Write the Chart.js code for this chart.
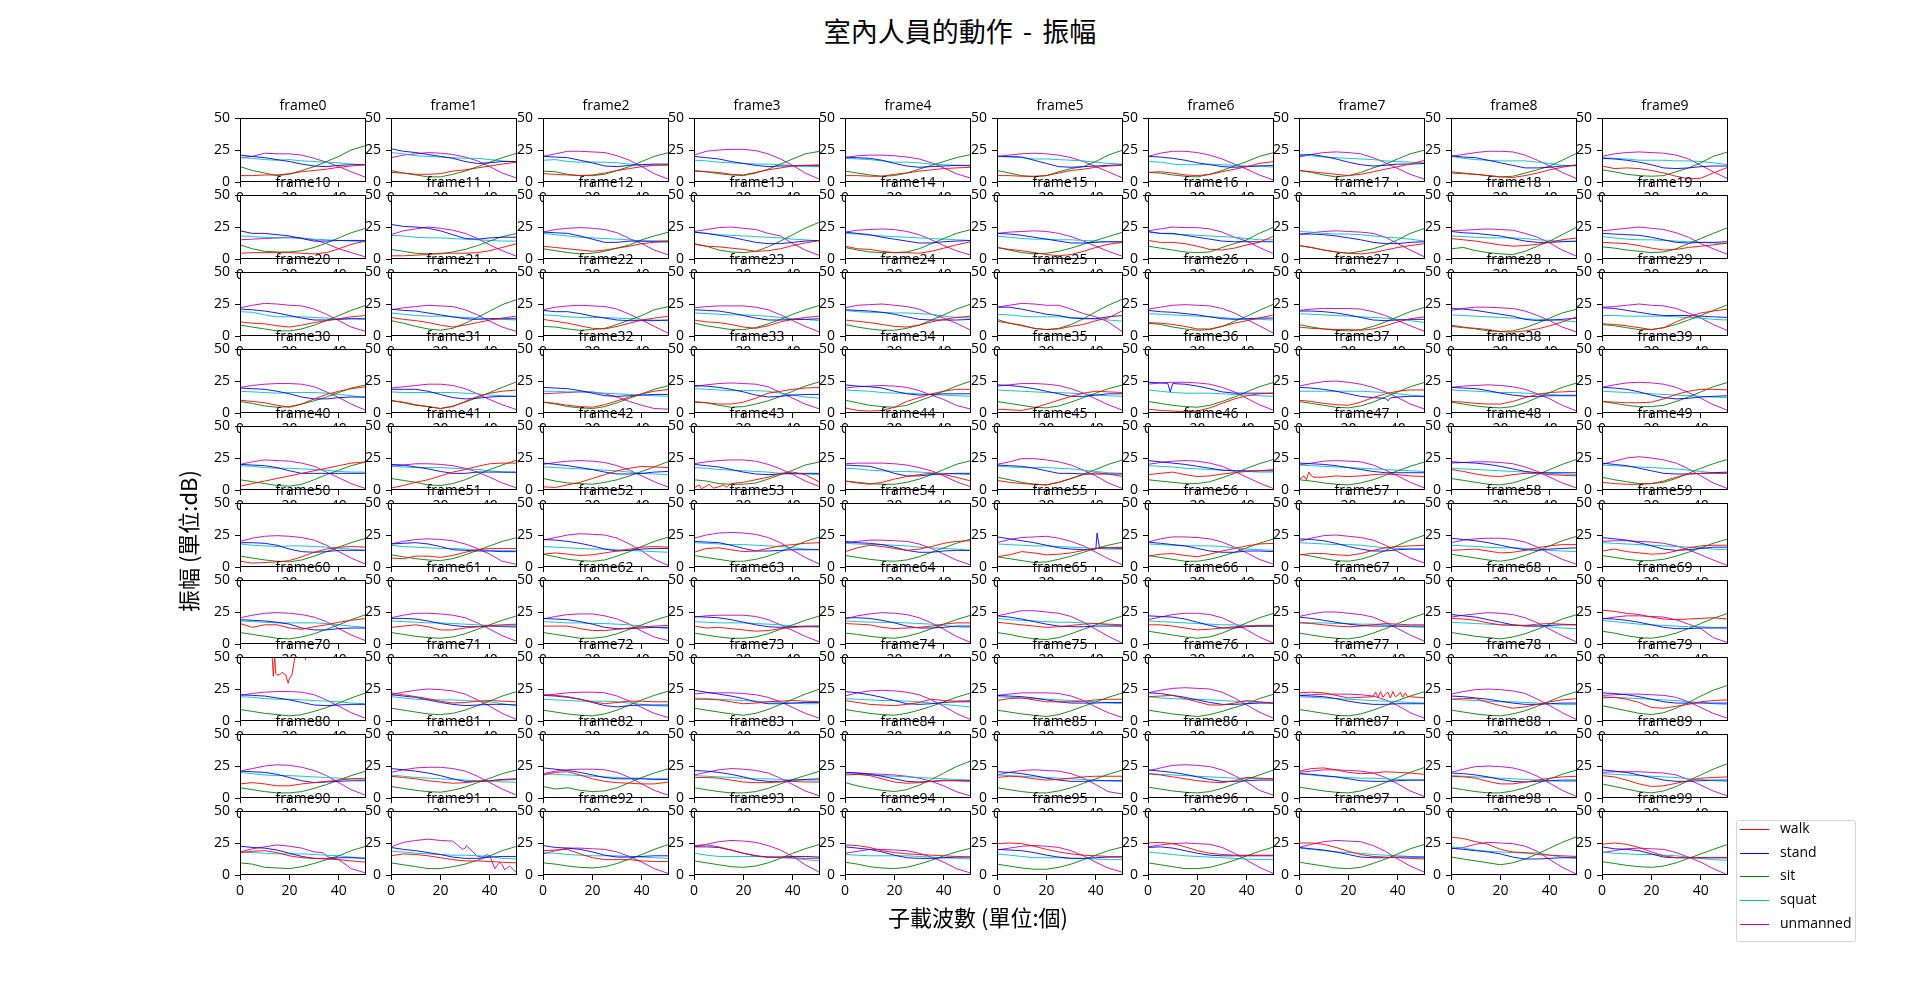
<!DOCTYPE html>
<html><head><meta charset="utf-8">
<script src="https://cdn.jsdelivr.net/npm/chart.js@4.4.1/dist/chart.umd.min.js"></script>
<style>
html,body{margin:0;padding:0;background:#fff;width:1920px;height:983px;overflow:hidden;}
#stage{position:relative;width:1920px;height:983px;background:#fff;}
#stage canvas{position:absolute;}
.lbl{position:absolute;white-space:nowrap;color:#000;line-height:1;font-family:'Noto Sans CJK TC','Open Sans',sans-serif;}
#legend{position:absolute;left:1736px;top:820px;width:120px;height:122px;box-sizing:border-box;border:1px solid #d4d4d4;border-radius:3px;background:rgba(255,255,255,0.8);font-family:'Open Sans','Noto Sans CJK TC',sans-serif;font-size:14px;color:#000;}
#legend .it{position:absolute;left:0;height:20px;width:118px;}
#legend .ln{position:absolute;left:3px;top:9px;width:29px;height:1px;}
#legend .tx{position:absolute;left:43px;top:-2px;line-height:20px;}
</style></head><body><div id="stage"></div>
<script>
// subcarrier positions of the read-off samples
const X = [0,5,10,15,20,25,30,35,40,45,51];
const xTicks = [0,20,40];
const yTicks = [0,25,50];
const seriesNames = ['walk','stand','sit','squat','unmanned'];
const seriesColors = ['#ff0000','#0000ff','#008000','#00bfbf','#bf00bf'];

const walk = [
[5,5,5.5,5.5,6.5,8,9,10,11.5,12.5,13.5],
[7.5,7,6,6,6.5,8.5,9.5,11,12.5,14,15.5],
[6.5,6,5.5,5,5.5,7,9,10.5,12,13,13.5],
[9,8,7.5,6,5.5,7.5,9.5,11,12.5,13,13.5],
[5,5,4.5,4.5,6,7,8.5,9.5,10.5,11,11.5],
[5,5,4.5,4.5,5,7,9,10,11.5,12.5,13],
[7.5,8,7,5.5,5,6,8,10,12,14.5,16],
[9,8,7,6,5,6,8,10,12,14,17],
[7,6.5,6,5,4,3.5,5,7,9.5,11.5,13.5],
[12.5,10.5,11,10.5,9,7,4.5,2.5,3,7,11.5],
[4.5,5,5,5,5,4.5,4,5,8,11.5,14],
[2.5,2.5,3,3.5,4.5,4.5,4.5,5,6.5,9,12],
[10,9,8,7,6,7,8.5,10,12,13,14],
[11.5,10,9.5,8.5,7.5,6,6.5,8,10.5,12.5,14.5],
[10,8,7.5,6,5,5,4.5,6,8.5,11,13.5],
[9,7.5,6.5,5,3.5,2.5,3.5,6,9,11.5,13],
[14.5,13,13,12,10,7.5,7,8.5,11,13,18],
[10.5,9,7,5.5,4.5,4,5,7,9,10.5,12],
[16,15,14,12.5,11,10,10.5,11.5,13,15,16.5],
[13,12.5,12,10.5,8.5,7,7.5,9,10,11,12.5],
[11,10,9.5,8,7,8.5,10.5,12,13.5,15,16],
[14.5,13,12,10.5,8.5,7,8.5,10.5,12.5,14,15.5],
[13,11.5,10,8,6,5.5,7.5,10,12.5,14,15.5],
[12.5,11,10.5,9,7,6,8,11,13,14.5,15.5],
[12.5,11.5,10.5,9,7.5,7,8.5,11,13,14.5,15.5],
[11.5,10,8.5,6,5,5.5,7.5,9,12,14,20],
[10.5,10,9,7.5,5.5,5.5,7.5,10,12,14,16.5],
[7,6,5.5,5,5,4.5,5.5,8,11,13.5,15],
[7.5,6.5,6,5,3.5,3,4,5.5,8,11,15],
[9.5,9,8,6.5,5,6.5,11,15,18,19.5,21],
[10,9,8,6,4.5,7,11,14.5,17,19,20.5],
[9.5,8.5,6.5,5,3.5,5,9,13,15.5,17,18],
[8.5,7.5,6,5,4.5,6.5,9.5,12.5,15,17,18.5],
[8.5,8,7,7,8.5,11.5,15.5,17,18.5,19.5,20],
[4,2,1.5,2,4.5,9,12,15,17,18.5,18.5],
[3,2.5,2,4,7,10,13,15.5,17,16.5,16],
[3,2,1.5,1,1.5,4,7.5,11,13.5,15,15.5],
[10,9,7.5,6.5,6,8.5,12,15,17,18,18],
[9,8.5,7.5,7,7,9,12,14.5,16,16.5,17],
[9,8.5,8,8,8.5,11,14.5,17,18.5,18.5,18],
[3,5,7,9,11,13,15,17,19,21,22],
[1.5,3.5,6,8,11,14,16,18.5,20.5,21,21],
[2.5,2,4,6,9,12,15,17,18.5,18,17.5],
[1.5,3,2.5,5,6,8,10,13,14,12,6],
[7,5.5,4.5,6,8.5,10.5,12,13,12,10,7],
[7.5,6,5,4.5,4,6,9,12,13.5,12.5,10.5],
[12,13,14,12,10.5,11,12.5,13.5,14.5,15,16],
[8,11,10,11,10.5,11,12,12.5,12,11,10.5],
[16,14.5,12.5,11,10.5,12,13,13,12,11.5,11],
[6,5,4.5,4.5,5,7,10,12.5,13,13,13],
[4.5,3,3.5,4,5,8,11.5,14,15.5,16,15.5],
[7,6.5,8.5,8.5,7.5,9,11.5,13.5,14.5,14.5,14.5],
[10,11,10,9,9.5,11,12.5,14,15.5,16,15.5],
[11.5,14.5,15,13.5,12,12.5,14.5,16.5,17.5,18.5,19],
[12,15,17,16,14.5,13,14,16,18.5,20,20.5],
[8,9.5,12,11,9.5,10,11,13,14.5,15,15.5],
[8.5,10,10.5,9,8,10,12.5,14.5,16.5,18,18.5],
[9.5,10.5,10.5,9.5,9,10.5,13,15,16,16.5,17],
[13,13.5,14,12.5,11,11.5,13,15,16.5,17.5,17.5],
[12.5,14,12,11,10,10.5,12.5,15,16.5,17,17],
[16,13,15,15,12.5,11.5,13.5,15,17,18.5,20],
[13,14,15,13.5,11,11,12.5,13.5,14.5,15,15.5],
[14,14,14,12,10.5,10.5,11.5,12.5,13.5,14,14.5],
[14,12.5,13,12,11,10,10.5,12,13,13.5,14],
[16,15.5,15,13,12,12.5,13,14,15.5,16.5,16.5],
[17,16,15,14,13,13.5,14.5,15.5,16,15.5,15],
[15,15,14,12.5,11,11.5,12.5,13.5,14,14.5,14.5],
[16.5,16,15,14,13.5,14,15,16,15.5,15,15],
[20,19.5,18.5,16.5,15,14.5,14.5,15.5,16,15.5,15],
[26.5,25.5,24,23,21,19.5,19,19.5,20,20.5,19.5],
[60,60,60,36,33,58,60,60,60,60,60],
[22,20.5,19,17.5,15.5,14,14.5,15.5,16,15.5,15],
[20.5,20,19,17,15,13.5,14.5,15.5,15.5,15,15],
[17,17,16.5,15,13.5,14,15,15.5,16,15.5,15],
[16,14.5,13,12.5,12,13,14.5,17,16,15.5,16],
[16,17.5,18,16.5,15,15,15,15.5,16.5,17,17],
[19,19.5,20,17.5,15,12.5,12.5,14,16,15,14],
[22,22.5,22,20,18,18.5,19,21,20,19,18],
[17,17.5,17.5,14.5,12,10,11,13,15,16.5,17.5],
[18,18.5,17,14.5,10.5,10,11.5,13,15,16,16.5],
[11,12,11,9.5,9.5,11,12,13,14,15,15.5],
[17,16,15,13.5,12.5,11.5,12,13,13.5,14,14.5],
[18,20,20.5,18,15,13,12,11.5,11,11,12.5],
[16,16,15.5,14,12.5,12,12,12.5,13,12.5,12.5],
[18,18.5,17.5,15,12.5,11.5,12,13,14,13.5,13],
[16,17,16.5,15,14,14.5,15.5,16.5,17,17,17],
[19,18,16.5,15,13.5,12.5,12,13.5,16,15.5,15],
[21,23,23.5,22,20,19,19.5,20.5,20,19.5,18.5],
[17,16.5,15.5,13,11,11,12.5,14,15.5,16.5,17],
[17.5,16.5,14,11,9,9.5,11.5,13.5,15.5,16,16.5],
[17.5,18.5,19,17.5,15,13.5,13,12.5,12,11,10],
[15,16.5,16,15,13.5,12,11,11,10.5,10,9.5],
[19,19.5,20,16.5,13.5,12,12,12,11,10.5,10.5],
[23,23.5,22,19.5,17,15,14,14,13.5,13,13],
[23.5,23,21.5,19,17.5,16.5,16,15.5,15,14.5,14],
[24.5,25,24.5,22.5,20,18,16.5,15.5,15,14.5,14.5],
[25,25.5,24.5,22,19,17,16,15.5,15.5,15.5,15.5],
[25,25,24,21.5,18.5,16,14.5,14,13.5,13,12.5],
[29.5,28.5,26,24,20,18,17.5,16,15.5,15,14.5],
[24,25,24,21.5,18,15,13.5,13.5,13.5,13.5,13.5]
];

const stand = [
[21,20,19,17.5,16,14,12.5,12,13,13.5,13.5],
[26,24,23,21.5,20,18.5,16,14.5,15,16,16],
[20,19.5,19,17,15,12.5,12,13,13.5,14,14],
[20,19,18,16,14.5,13,12,12.5,12.5,13,12.5],
[19.5,19,18.5,17,14.5,12.5,11.5,12,12.5,13,13],
[20,20,19.5,17,14.5,12,11.5,12,12.5,13,13.5],
[20,19.5,18.5,17,15,13.5,12,11.5,12,12.5,13],
[21,21.5,20,18,15.5,13.5,12.5,13,14,14,14.5],
[20.5,19.5,19,17,15,13,11,11,11.5,12.5,13],
[18.5,18,17,15.5,13.5,11,10.5,11,12,12.5,12.5],
[22,20,20,19,18,16,14,14,14.5,14.5,14.5],
[27,25.5,25,24,22,19,16,15.5,16.5,17,17],
[21,20.5,20,18,15.5,13,13,14,14,14,14],
[21,20,18.5,17,15,13,12,12,13,14,14.5],
[21,20,19,17,15.5,14,12.5,12.5,13.5,14,14.5],
[20,19.5,18.5,17,15.5,14,12.5,12.5,13,13.5,13.5],
[21.5,20,20,18.5,17,15.5,14,13.5,13.5,13.5,13.5],
[19.5,19.5,19,18,16.5,15,13,12,12,13,13.5],
[21.5,20.5,20,19,18,16,14,13,13,13.5,14],
[20,19.5,19,18.5,17,15,13,12.5,13,13,13.5],
[21,20.5,19.5,18,16,14,12.5,12.5,13,13.5,13.5],
[21,20,19.5,18,16.5,15,13.5,13,13.5,13.5,13.5],
[20,19,19,17.5,15.5,14,12.5,12,12,12,12.5],
[20.5,20,19.5,18,16,14,12.5,12.5,13,13,13.5],
[20.5,20,19.5,18.5,17,15,13,12.5,12.5,12.5,13],
[22.5,22.5,21,19,17,16,14,13.5,13.5,15,16],
[20,19,18.5,17.5,16.5,15,13.5,13,13.5,14,14],
[19.5,19.5,19,18,16.5,14.5,12.5,12,12.5,13,13],
[21.5,21,20,18.5,17,15.5,13,12,12.5,13,14],
[22,21.5,20,18.5,17,16,16,16,15.5,15,14.5],
[19.5,19,18.5,17,15,12.5,11,11,12,12.5,12.5],
[18.5,18.5,18.5,17,14.5,12,11,11.5,12.5,13,13],
[20,19.5,19,17.5,15.5,13.5,13,13.5,14,14.5,14.5],
[21.5,21,20,18.5,16.5,14,12.5,13,14,14.5,14.5],
[22,21,20.5,19.5,17,15,14,14.5,15,15,15],
[22,21.5,20.5,19,17,15,13,13,14,15,15],
[24,23.5,23,22.5,21,19,16.5,15.5,15.5,15.5,15.5],
[20,19.5,18.5,17,15,13,12,11.5,12.5,13,13],
[20,19.5,19,17.5,15.5,14,13,13,13.5,13.5,13.5],
[20,19.5,18.5,16.5,14,12,11,11.5,12.5,13,13.5],
[20,19.5,19,17.5,15,13,13,13,13,13,13],
[20,19.5,18,16.5,14.5,13,13,14,14,14,14],
[21,20,19,17.5,16,14,12.5,12.5,13,14,14.5],
[20,19,18,16,14,12.5,12,12.5,13,13,13],
[19.5,19,18.5,16,13,11,11,12,12.5,13,13],
[19.5,19,18.5,17,15,13,13,12.5,12.5,12.5,12.5],
[23,22,21,20,18.5,17,15.5,15,15,15,15],
[21,20.5,20,19,17.5,16,14.5,13.5,13.5,13.5,13.5],
[22,21.5,21,20,18.5,16.5,14.5,13.5,13.5,13.5,13.5],
[21,20,19,17,15,13,12.5,12.5,13,13.5,14],
[19,19,18.5,17,14,12,11.5,12,13,13,13],
[18,18.5,19,18,16,13.5,13,12.5,12.5,12,12],
[21.5,21,20,18.5,16.5,14,12.5,13,14,14.5,14.5],
[20,19.5,19,17,14.5,12.5,12.5,13,13.5,13.5,13.5],
[20,19,18.5,17.5,15.5,13,11.5,11.5,12.5,13,13],
[23.5,22,20.5,19,17,15,14,13.5,14,15,14.5],
[19.5,18.5,17.5,16.5,14.5,12.5,11.5,11.5,12.5,12.5,12],
[22,21.5,20.5,18.5,16,14,12.5,12.5,13.5,14,14],
[22.5,21.5,20.5,19,17,15,13.5,13,14,14.5,15],
[23,22,21,19,16.5,14,13,13.5,14.5,15.5,15.5],
[19,18.5,18,17,15.5,12.5,11,11,12,12.5,12.5],
[20,20,19.5,18,16,14.5,13.5,13.5,14,14,14],
[20,19.5,19,17.5,15.5,13,12,12,12.5,13,13],
[21.5,21,20.5,19,17,15,13.5,13,13.5,14,14],
[20.5,20.5,20,18.5,16.5,14,12.5,12.5,13,14,14],
[22,21,19.5,17.5,15.5,14,13.5,13.5,14,14,14],
[22,21.5,21,19.5,17,14.5,12.5,12.5,13.5,14,14],
[21,20,18.5,17,15.5,14.5,14,14,14,14,14],
[23,22,21,19,17,15,14,14,14.5,15,15],
[20,19.5,18.5,17,15,13,12,12,12.5,12.5,12.5],
[20.5,20,19.5,18,16.5,14.5,12.5,12,12.5,13,13],
[20.5,19.5,18.5,16.5,14.5,13,12,12.5,13,13,12.5],
[20,19.5,18.5,17,14.5,12,11,12,12.5,12.5,12.5],
[24,22.5,21,19.5,17.5,15,13.5,13.5,14,14.5,14.5],
[23,22,20.5,18.5,16,13.5,13,13.5,14.5,15,15],
[20,19.5,19,18,16.5,15,14,14,14,14.5,14.5],
[22,21.5,20,18.5,16.5,14.5,13,13,13.5,14,14],
[20,19.5,19,17.5,15.5,14,13,13,13.5,13.5,13.5],
[19.5,19,18,17,15.5,14,13,13,13.5,14,14],
[22,21.5,20.5,19,17,15,14,14,14,14,14],
[21,20.5,20,18.5,16,13.5,12,12.5,13,13.5,13.5],
[23,22,21,19.5,17.5,15,13,13,13.5,14.5,15],
[23.5,22.5,21.5,20,18,16,15,15,15,14.5,14.5],
[21.5,21,20,18.5,16.5,14,13,13,14,14.5,15],
[20,19.5,18.5,17,15,13,12.5,13,13.5,13.5,13.5],
[20.5,20,19,17.5,15.5,14,13,13,13.5,13.5,13.5],
[22,21,20,18.5,16.5,14.5,13,13,13.5,14,14],
[19,18.5,17.5,16.5,15,13.5,13,13,13.5,14,14],
[19.5,19,18,16.5,14.5,13,12.5,13,13.5,14,14],
[22,21,20,18,16,14,13,13,13.5,14,14],
[22.5,21.5,21,19.5,17,14.5,13,13,13.5,13.5,13],
[21.5,20,19,17.5,16,14,13,13,14,14.5,14.5],
[23,21.5,21,20,18,15.5,14,14,14.5,15,15],
[22,22,21.5,19.5,17,15,14,14,14.5,14.5,14],
[22,21,20,18,15.5,13.5,13,13,13.5,14,14],
[20,19.5,19,17.5,15.5,14,13,13,13.5,14,14],
[21.5,22,21,19,17,15.5,15,15,15,15,15],
[21.5,20.5,19.5,18,16,14,13.5,13.5,14,14,14],
[21,20,19,18,16.5,14,12.5,12.5,13,13.5,13.5],
[22,20.5,20,19,16.5,14,13.5,13.5,13.5,13.5,13.5]
];

const sit = [
[12,9,7,5,6,9,12,16,20,25,28.5],
[9,7,5.5,4,4,6,8.5,12,15.5,19,22.5],
[8.5,8,6,5,5,6,9,12,16,20,23],
[8.5,8,6.5,5.5,5,7,10,14,18,22,24],
[8.5,7,5.5,4.5,5,7,10,13,16,19,21.5],
[9,7,5,4,5,8,10.5,12,16,21,25],
[7.5,7,5.5,4.5,4,6,9,12.5,16,20,23],
[9,7.5,5.5,4,5,7.5,11,14,18,22,25],
[8,7,6,5,4,4.5,7,9.5,12.5,17,22.5],
[9.5,8,6,5,4.5,5,8,11,15,20,23.5],
[11,8,6,5.5,5.5,6.5,9,12.5,16.5,20.5,24],
[7.5,6,4.5,4,4,5.5,7.5,10.5,14,17.5,20],
[8,6.5,5,4,4.5,6,8.5,11,15,18,21],
[12,10,7,5.5,5,6,9.5,14,19,24,29],
[9,7,5.5,5,5,5.5,8,12,16,20,23],
[9,7,5,4,4.5,6,8.5,11.5,14.5,17.5,21],
[10,8.5,7,5.5,5,5.5,9,12,15,20,25],
[10.5,9,7,5.5,4.5,6,8,11,15,20,24],
[8,9,6.5,5,4,3.5,6,10,14,19,25],
[9.5,8.5,7,6,5,5.5,8,12,16,20,24.5],
[8.5,7,5.5,4,4,5.5,8.5,12,16,20,24],
[12,10,7.5,5.5,4.5,6,10,14.5,19.5,24.5,28.5],
[7.5,7,5.5,4.5,5,6,9,12.5,16,20.5,23],
[10,8,6.5,5,5,6.5,9.5,13,17,20.5,24],
[9,7,5.5,4.5,4.5,6,8.5,12.5,16.5,21,25],
[13,10,8,6,5,6,9,13.5,19,24,29],
[10,9,7,5.5,4.5,5,7.5,11.5,15.5,20,25],
[9,7,5.5,4.5,4,5,7.5,11,15,19,22.5],
[8.5,7,5.5,4,3.5,4,6.5,10,14,18,21],
[9,8,6.5,5,5,6.5,9,12.5,16,20,24.5],
[9,7.5,5.5,4.5,5,7,9.5,12.5,16,19.5,22],
[10,8,6,5,3.5,5.5,8.5,12,16,20,24.5],
[8.5,7,5,4,3.5,5,8,11.5,15,18.5,21.5],
[9,8,6,4.5,5,7,9.5,13,17,21,24.5],
[10,8,6,5,4.5,6,9.5,13,17,21,25],
[9,7.5,6,4.5,4,5.5,8.5,12,15.5,19,22],
[9,7.5,6,5,4.5,6,9,12.5,16.5,20.5,24],
[9,7.5,6,4.5,4,5.5,8.5,12.5,16.5,20.5,24],
[8.5,7,5.5,4.5,4,5,8,12,16,20,23.5],
[9,7.5,6,5,5,6,9,12.5,16.5,20.5,24],
[8,6.5,5,3.5,3,4.5,8,12,15.5,19,22],
[9,7.5,6,4,3.5,5,8,12,16,19.5,23.5],
[9,7,5.5,5,4.5,6,8,11,14.5,18,22.5],
[8,7,5,4.5,4.5,5.5,8.5,12,15.5,19.5,22],
[7,6,5,4.5,4.5,6,8.5,12,16,20,23],
[10,8,6,4.5,4,6,9,12.5,16,20,23.5],
[8,7,6,5,5,6.5,9.5,13,17,20.5,24],
[8,7,5.5,4.5,4,5.5,8,11.5,15,18.5,22],
[9,7.5,6,4.5,4,5.5,8.5,12,16,20,24],
[10,8,6.5,5,5,6,9,13,17,20.5,24],
[8.5,7,5.5,4.5,4,5.5,8.5,12,15.5,19,22.5],
[9.5,8,6.5,5.5,5,6.5,9.5,13,16.5,20,23],
[10,8,6,5,4.5,5.5,8.5,12,16,20,23.5],
[9,7.5,6,4.5,4.5,6,8.5,12,16,20,23.5],
[9,7.5,6,5,4.5,5.5,8,11.5,15,18.5,22],
[8,6.5,5,3.5,4,6,8.5,11.5,14.5,17,19.5],
[9,7.5,6,4.5,4.5,6,8.5,11.5,15,18.5,22],
[10,8.5,6.5,5,4.5,6,9,13,17,21,25],
[10,8.5,7,5.5,4.5,6,9,12.5,16.5,20.5,24],
[9,7.5,6,5,5,6,8.5,11.5,15,18.5,22],
[9,7.5,6,4.5,4,5.5,8,11.5,15,19,23],
[9,7.5,6,5,4.5,5.5,8,11.5,15,18.5,22],
[9,7.5,6,4.5,4.5,5.5,8,11.5,15,18.5,22],
[8.5,7,5.5,4.5,4.5,5.5,8,11.5,15,18.5,22],
[8.5,7.5,6,5,4.5,6,8.5,12,15.5,19,22.5],
[9,7.5,5.5,4,3.5,5,8,11.5,15,18.5,22],
[10,8.5,7,5.5,4.5,5.5,8.5,12.5,16.5,20.5,24],
[8.5,7,5.5,4.5,4,5.5,8.5,12,16,20,24],
[9,7.5,6,5,4,5.5,8,11.5,15.5,19.5,23],
[10,8.5,6.5,5,4.5,6,8.5,12,16,20,24],
[9,7.5,6,5,4,5,7.5,10.5,14,18,22],
[10,8.5,7,5.5,5,6,8.5,12,15.5,19.5,23],
[8.5,7,5.5,4.5,4,5.5,8.5,12.5,16.5,20,23.5],
[10,8.5,7,5.5,4.5,6,9,13,17,21,25],
[9,7.5,6,5,4.5,6,8.5,11.5,15,18.5,22],
[8.5,7,5.5,4.5,3.5,5,8,11.5,15,18.5,22],
[8.5,7,5.5,4.5,3.5,5,7.5,10.5,13.5,17.5,21],
[9,7.5,6,4.5,4,5.5,8.5,12,16,19.5,23],
[8.5,7,5.5,4.5,4,5.5,8,11.5,15.5,19.5,23],
[12,10,8,6,5,6.5,10,14.5,19.5,24,28],
[8,6.5,5,4,4,5,7.5,10.5,14,17.5,21],
[9,7.5,6,5,4.5,6,8.5,12,15.5,19,22],
[9,7,8,6,5,5.5,8,12,16,19.5,23],
[8,6.5,5,4,4,5,7.5,11,14.5,17.5,21],
[12,9.5,7.5,6,5,6.5,10,14.5,19.5,24.5,29],
[8,6.5,5,4,4,5.5,8,11.5,15,18.5,22],
[8.5,7,5.5,4.5,4,5,7.5,11,14.5,18,22],
[8.5,7,5.5,4.5,4,5.5,8.5,12,16,20,24],
[8,6.5,5,4,4,5.5,8,11.5,15,18.5,22],
[11,9,7,5,4,5.5,9,13.5,18,22.5,27],
[9.5,8.5,6,5.5,5,6.5,9,12,15,19,22.5],
[9.5,8,6.5,5,5,6.5,8.5,11.5,15,19,22.5],
[9.5,8.5,7,6,5.5,6.5,9,12.5,16,20,24],
[11,9.5,8,6.5,6,7,9.5,13,17,20.5,24],
[10,8.5,6.5,5.5,5,6,8.5,11.5,15,18,21],
[8.5,7,5.5,4.5,4.5,6,8.5,12,15.5,19,22],
[9.5,8,6.5,5,5,6,8.5,11.5,15,18.5,22],
[10,8.5,7,5.5,5,6,9,12.5,16.5,20.5,24],
[14,12.5,11,9.5,8,9.5,12.5,16.5,21,25.5,30],
[10.5,9,7.5,6.5,6,7,9.5,13,16.5,20,24]
];

const squat = [
[19,18.5,17.5,17,17.5,16.5,16,15.5,15,14,13.5],
[23,22,20.5,20,19.5,19,18.5,18.5,17.5,16.5,15.5],
[17,17.5,16,15.5,15.5,15.5,15,14,13.5,13,13],
[17,16.5,15.5,15,14.5,14,14,13.5,13,12,12],
[18.5,18,17.5,16.5,15.5,15.5,15,14,13.5,13,12.5],
[20,19.5,19,18,18,17.5,17,16.5,15.5,14.5,14],
[16,15.5,14,13.5,13.5,14,13.5,13,12.5,12.5,11.5],
[21,20.5,19.5,19,18.5,18,17.5,16.5,16,15.5,15],
[20,18.5,17.5,17,16.5,16.5,16.5,15.5,14.5,13,12.5],
[19,18.5,18,17,17,17,16.5,16.5,16,15,13.5],
[18,17.5,17,16.5,16.5,16,15.5,15,14.5,14,13.5],
[18.5,18,17,16.5,16.5,16,15.5,15,14.5,14,14],
[20,19,18,17,16.5,16,15.5,15,14,13.5,13],
[21,20,19,18.5,18,17.5,17,16.5,15.5,15,14],
[20,19.5,18.5,18,17.5,17,16.5,16,15.5,15,14.5],
[18,17,16,15.5,15.5,15,15,14.5,14,13.5,13],
[21,20,19.5,19,18.5,18,17.5,17,16,15,15],
[21.5,21,20,19.5,19.5,19,18,17,16.5,15.5,14],
[18,17.5,17,16.5,16.5,16.5,16,15,14.5,14,13.5],
[17.5,16.5,15.5,15,15,14.5,14,13.5,13,12.5,12],
[19,18.5,16.5,15,15,15,14.5,14,13.5,13.5,13],
[18,17,16,15.5,15.5,15,14.5,14,13.5,13,12.5],
[16.5,16,15,14.5,14.5,14.5,14,13.5,13,12.5,12],
[18,17.5,17,16.5,16.5,16,15.5,14.5,13.5,13,12],
[20,19,18.5,18.5,18,18,17.5,17,15.5,14.5,14],
[17,16.5,15.5,15,15,15,14.5,14,13.5,12.5,11.5],
[17.5,17,16.5,16,15.5,15,14.5,13.5,13,13,12.5],
[17.5,17,16.5,16,15.5,15,14.5,14,13,12,10.5],
[16.5,16,15.5,15,14.5,14,13.5,13,12.5,12,11],
[16,16,15.5,15.5,15.5,15.5,15,14.5,14,13,12.5],
[17,16.5,16,15.5,16,16,16,15.5,14.5,13.5,12],
[16.5,16,16,16,16,16,15.5,15,14,13.5,13],
[17,17,16.5,16.5,16,15.5,15,14.5,14,13.5,13],
[19,18.5,18,17.5,17.5,17.5,17,15.5,14,12.5,11.5],
[18,17.5,17,16,15.5,15.5,15,14.5,14,13.5,13],
[18,17.5,17,16.5,16,16,15.5,15,14,13.5,13],
[18,17,16,15.5,15.5,15.5,15,14.5,14,13.5,13],
[17,17,17,17,17,17,16.5,16,15,14,13],
[18,17.5,17,16.5,16,16,15.5,15,14.5,14,14],
[17,16.5,16,15.5,15,14.5,14,13.5,13,12.5,12],
[19,18.5,17.5,17,17,16.5,16,15.5,14.5,14,14],
[19,18,17.5,17.5,17.5,17,16.5,16,15,14,13.5],
[18,17.5,17,16.5,16,15.5,15,14,13,12.5,12],
[17.5,17,16,15.5,15,14.5,14,13,12.5,12.5,12],
[17,16.5,15.5,15,14.5,14.5,14,13.5,13,12.5,12],
[18.5,18,17.5,17.5,17.5,17,16.5,15.5,14.5,13.5,13],
[19,18.5,18,17,16.5,16,15.5,15,14.5,14,14],
[19.5,19,18.5,18,17.5,17,16.5,16,15.5,15,14.5],
[17,16.5,16,15.5,15,14.5,14,13.5,13,12.5,12],
[19.5,19,18.5,18,17.5,17,16.5,15.5,14.5,13.5,13],
[18,17,16.5,16,16.5,16.5,16,15.5,14.5,14,13],
[17,16,15.5,15,14.5,14.5,14,13.5,13,13,12.5],
[16,15.5,15,14.5,14,14,13.5,13,12.5,12,11.5],
[19,18.5,18,17.5,17.5,17,16.5,16,15,14,13.5],
[18.5,18,17.5,17.5,17,16.5,15.5,15,14.5,14,13],
[18,17.5,17,16.5,16.5,16,15.5,15,14.5,14,14],
[18,17.5,17,16.5,16.5,16.5,16,15,14,13.5,13],
[19,18.5,18,17.5,17.5,17,16,15,14.5,14,14],
[17,16.5,16,15.5,15,15,14.5,14,13,12.5,12],
[19,18.5,18,17.5,17,16.5,16,15.5,15,14,13.5],
[18,17.5,17,16.5,16.5,16.5,16.5,16,15,14,13],
[18,17.5,17,16.5,16.5,16,15.5,15,14.5,13.5,13],
[17.5,17,16.5,16.5,16,16,15.5,15,14,13,12],
[17.5,17,16.5,16.5,16.5,16,15.5,15,14,13.5,13],
[18,17.5,17,17,17,16.5,16,15.5,14.5,13.5,13],
[20,19,18.5,18,17.5,17,17,16.5,16,15,14],
[18,17.5,17,16.5,16,15.5,15,15,14.5,14,14],
[17,16.5,16.5,16,16,15.5,15.5,15,14,13.5,13],
[17,16.5,16,15.5,15,15,14.5,14,13.5,12.5,12],
[18.5,17.5,16.5,15.5,15,14.5,14,13.5,13.5,13,13],
[19,18.5,17.5,17,17,16.5,16,15.5,15,14,13.5],
[19,18,17,16.5,16.5,16.5,16,15.5,15,13.5,12],
[17,16.5,16,15.5,15.5,15.5,15,14,13,12,11.5],
[18,17.5,17,16.5,16,15.5,15,14.5,14,13.5,13.5],
[17.5,17,16.5,16,16,15.5,15,14,13,12,11],
[19,18.5,18,17.5,17,16.5,16,15.5,15,14,13.5],
[19,18,17.5,17,17,16.5,16,15.5,15,14.5,14],
[19,18.5,18,17.5,17,16.5,16,15.5,15,14.5,14],
[17,16.5,16,15.5,15,15,14.5,14,13.5,13,13],
[19,18.5,18,17.5,17,16.5,16,15,14.5,13.5,13],
[20,19,18,17.5,17.5,17,16.5,16,15.5,15,14.5],
[18,17,16,15.5,15,14.5,14,13.5,13,12.5,12.5],
[19,18.5,18,17.5,17,16.5,16,15.5,15.5,15,15],
[17.5,17,16.5,16,15.5,15,15,14.5,14,14,14],
[19,18.5,18,17.5,17,16.5,16,15.5,15,14.5,14],
[18,17.5,17,16.5,16,15.5,15,14.5,14,13.5,13],
[19,18.5,18,17.5,17,16.5,16,15.5,15.5,15,15],
[19,18,17,16.5,16,15.5,15.5,15,14.5,14,14],
[17.5,17,16.5,16,15.5,15,14.5,14,13.5,13,13],
[19,18.5,18,17.5,17,16.5,16,15,14.5,13.5,13],
[18,17.5,17,16.5,16.5,16.5,16,15.5,15,14,13],
[18.5,18,17,16.5,16,15.5,15.5,15,14.5,13,12.5],
[17.5,17,16,15.5,15,15,15,14.5,14,13.5,13],
[17,15.5,14.5,14.5,14.5,14.5,14,13.5,13,12,11],
[16,15.5,15,15,15,15,14.5,14,13.5,13,12.5],
[16.5,15.5,14.5,13.5,13.5,13.5,13,13,12.5,12,12],
[18,17,16,15,14.5,14,13.5,13,12.5,12,12],
[21,20,19,18,17.5,17,16,15.5,15,14.5,14],
[22,21,19.5,18.5,18,17.5,17,17.5,15.5,14,13],
[18,17,16.5,16,16,15.5,15,14,13,12,11.5]
];

const unmanned = [
[19,20,22.5,22,22,21,18.5,15.5,12,8,3.5],
[19,21,22,23,22.5,21.5,19.5,16.5,12,7,3],
[20,22,24,24,23.5,23,20.5,17,12,6.5,2],
[21,24,25,25.5,25.5,24.5,22,18,13,7,2],
[19,20.5,21,21,20.5,19.5,18,15,11,6.5,3],
[20,21,22,22.5,22,21,19,16,12,8,3],
[20,22.5,24,24,23,21,18,14,10,5.5,1.5],
[19.5,21.5,23,23.5,23,22,19,15,10.5,6,2],
[20,21.5,23,24,24,23.5,21,17,12.5,7.5,2.5],
[20,22,23,23.5,23,22.5,21,18,13,8,2.5],
[15,15.5,16,16.5,17,16.5,15,12,8,5,1.5],
[19,22,23.5,25,24,22.5,20,16,11,6.5,2],
[21,23,24,24.5,24,23,20.5,16,12,7,3],
[21.5,23,24.5,25,24,23,20,18,12,7,2.5],
[21,22.5,23,23.5,23,21.5,19,15,10.5,6.5,3],
[20,21,21.5,22,21.5,20,17.5,14,10,6,2],
[22,23.5,25,24.5,24.5,23.5,21,17,14,9,4],
[19,20.5,21.5,22,21.5,21,20,17,12,7,1.5],
[22,22.5,23,23.5,23,22.5,20,17,12.5,7,2],
[22,23,24,25,24,23,20.5,17,12,8,3.5],
[22,24,25.5,25,24,23.5,21,17,12,7,3.5],
[20.5,22,23,24,23.5,23,20.5,16.5,11.5,7,3.5],
[20.5,22.5,23.5,24,23.5,23,21,17,12.5,7.5,2],
[22,23,23.5,23.5,23.5,22.5,20.5,16.5,12,7.5,3],
[22,24,24.5,25,24,23,21,17,14,10,4.5],
[22.5,24,25.5,25,24,24,21,17.5,15,11,3],
[21,22.5,24,24.5,24,23.5,21.5,18,13,8,2],
[20,21,21.5,21.5,21.5,21,19,16,12,8,3.5],
[20,21.5,22.5,22.5,22,21.5,19.5,16,12,7,3],
[22.5,23,24,25,24,23.5,21.5,18,14,9,4],
[20,21.5,22.5,23,23,22.5,20.5,16.5,12,7,2],
[19.5,20.5,21.5,22.5,22.5,21.5,19,15,10.5,6.5,2.5],
[15,15.5,16,16.5,16.5,15,12.5,9,6,3.5,3],
[20.5,22,23,23.5,23,22.5,20.5,16,11.5,7,3],
[19.5,20.5,21,21.5,21,20,17.5,14,10.5,6,3],
[21,22,23,23,22.5,21.5,19,15.5,11,6.5,2],
[22.5,23.5,24,24,23.5,22.5,20,16.5,11.5,6.5,2],
[21,23,24.5,25,24,22.5,20,16.5,12,7,3],
[20,21,21.5,22,21.5,20.5,18.5,15,11,6,1.5],
[20,22,23.5,24,23.5,22.5,20,16,11.5,6.5,2],
[20,22,23.5,23,22.5,21,18.5,14,9.5,5,1],
[18.5,19.5,20.5,20.5,20,19,17,14,10,5.5,1.5],
[20,21.5,22.5,23,22.5,21.5,19,15.5,11,6.5,2],
[20.5,22,23,23.5,23.5,22.5,20,16.5,12,7,2.5],
[20.5,21,21,21,20.5,19.5,17.5,15,11,6.5,2.5],
[20,22,24.5,24.5,23.5,22,19.5,15.5,11,5.5,1],
[20,21.5,22.5,23,22.5,21,18.5,14.5,10,5.5,1],
[19.5,21,22.5,23,22.5,22,19.5,15.5,11,6,1.5],
[21,21.5,22,22,21.5,20.5,18,14.5,10,5.5,1.5],
[20,22.5,25,26,25,23.5,21,16.5,11,5.5,1],
[20,22.5,24,24.5,24,23,21,17,12,7,2],
[18,20,21.5,22,21.5,20.5,18,14.5,10,4.5,2],
[21,23,25,26,25.5,25,22.5,18,12.5,6,1],
[22.5,25,26.5,27,26.5,25.5,23,19,13,7.5,2],
[19,20,21,21,20.5,20,18,14.5,10,5.5,1.5],
[19,21.5,23,23.5,24,22.5,20,16.5,11.5,6.5,1.5],
[19.5,22,23.5,23.5,23,22,19.5,15.5,11,6,2],
[20,22.5,24.5,25,24,23,21,17,12,7,3],
[19,21,22,22.5,22.5,21.5,19.5,15.5,10.5,6,2],
[20,20.5,20.5,20,19.5,18.5,16.5,13.5,9.5,5.5,1],
[20.5,22.5,24,24.5,24,23,21,17.5,12,7,2.5],
[20.5,22.5,24,24,23.5,22.5,20.5,16.5,11.5,6.5,2],
[19.5,21.5,23,23.5,23.5,22,19.5,15.5,10,5.5,2.5],
[21,22,22.5,22.5,22.5,21.5,19,15,10.5,6,1.5],
[19.5,22,23.5,24.5,24,23,20.5,16.5,11.5,6,1],
[22,24,26,26,25,24,21.5,17,11.5,6,0.5],
[19,21,23,24,24,23,20.5,16,11,5.5,0.5],
[21.5,23.5,25,25,24,23,21,17,12,7,2],
[21,22.5,23.5,24.5,24,23,20.5,16.5,11.5,6.5,1.5],
[19.5,21,22,22,21.5,21,19,15.5,12,5,1],
[20,21.5,22.5,23,23,22.5,20.5,16.5,11.5,6.5,2],
[20.5,22.5,24,25,24.5,23.5,21,16.5,11.5,6,1],
[20,21,22,22.5,22.5,22,19.5,15.5,10.5,6,2.5],
[21,22,22,22,21.5,20.5,18.5,15,10.5,6,2],
[19.5,22,23.5,24,23.5,22.5,20.5,16.5,11.5,6,1],
[20,21,22,22,22,21.5,19.5,16,11,6.5,2.5],
[22,24,25.5,26,25.5,25,22.5,18,12.5,7,2],
[20,20.5,21,21,21,20.5,19.5,16.5,12,6.5,2],
[21,23,24.5,25,24.5,23.5,21.5,17,12,6.5,1],
[20,20.5,21,21,20.5,20,18.5,15,10.5,6,2],
[21,23,25,26,25.5,24,21.5,17.5,12,6.5,2],
[20,22,23.5,24,24,23,21,17,12,7,2],
[19,21,22,22.5,22.5,22,20,16,11,6,2],
[18,20,22,23,22.5,21.5,19.5,15.5,10.5,5.5,1.5],
[20,19.5,19,18.5,18,17,15.5,13,9.5,5,1.5],
[18,20,21.5,22,21.5,21,19,15.5,10.5,5,3],
[21,23.5,25.5,26,25.5,24.5,22,17.5,12.5,6,2],
[20,21,22,22,21.5,21,19.5,16,11,5.5,1],
[20,22.5,24.5,25,24.5,23.5,21,17,11.5,6,1],
[20,20.5,20.5,20.5,20,19.5,18,14.5,10,5.5,1.5],
[18,20.5,22,23.5,22.5,21,18,15,12,5,1.5],
[22,25.5,27,28,27,26.5,21,14.5,15,8,1.5],
[16.5,19,21,21,20.5,20,18,14.5,10,5,1],
[22,24,26,27,26.5,25.5,23,19.5,14.5,8,2],
[17,18.5,20,20,19.5,19,17,14,10,5,1.5],
[19.5,21,22.5,23,22.5,21.5,19,15,10,5.5,2],
[22,23.5,24.5,25,24.5,24,21.5,17,11.5,6,1],
[21.5,24,26,27,26.5,26,23,18.5,12.5,7,2],
[20.5,21.5,24,25.5,25,24.5,22.5,18.5,12,6,0.5],
[17.5,19,20.5,21,20.5,20,17.5,14,10,5,0]
];

// extra read-off samples for narrow spikes / jitter: [frame, series index, x, y]
const extraPoints = [
[36,1,8,23.2],[36,1,9,16.5],
[37,1,36,9.5],[37,1,37,11.8],
[43,0,2,4],[43,0,3,1],[43,0,6,4.5],[43,0,8,1.5],[43,0,12,4],[43,0,13,2],
[47,0,2,11],[47,0,3,8],[47,0,4,14],[47,0,6,10],
[55,1,39.5,14],[55,1,40.5,26.5],[55,1,41.5,15],
[70,0,12,58],[70,0,13,50],[70,0,13.5,35],[70,0,14,52],[70,0,14.5,37],[70,0,16,36],[70,0,17,38],[70,0,18.5,36],[70,0,19.5,29.5],[70,0,21,36],[70,0,22,47],[70,0,23,58],[70,0,26,58],[70,0,26.5,48],[70,0,27,58],
[77,0,31,22.5],[77,0,32,18.5],[77,0,33,23],[77,0,34,18.5],[77,0,36,22.5],[77,0,37,18],[77,0,38,23],[77,0,39,19],[77,0,41,22.5],[77,0,42,18.5],[77,0,43,22],[77,0,44,19],
[90,4,33.5,17.5],[90,4,36,14],
[91,4,29,20],[91,4,30.5,23],[91,4,37,14],[91,4,39,16],[91,4,42,5],[91,4,44,10],[91,4,46,4],[91,4,48,7]
];

const seriesData = [walk, stand, sit, squat, unmanned];

function pointsFor(f, s) {
  const pts = X.map((x, i) => ({x: x, y: seriesData[s][f][i]}));
  extraPoints.forEach(e => { if (e[0] === f && e[1] === s) pts.push({x: e[2], y: e[3]}); });
  pts.sort((a, b) => a.x - b.x);
  return pts;
}

const FONT = "'Open Sans','Noto Sans CJK TC',sans-serif";
Chart.defaults.font.family = FONT;
Chart.defaults.color = '#000';

const framePlugin = {
  id: 'axFrame',
  beforeDraw(chart) {
    const a = chart.chartArea, ctx = chart.ctx;
    ctx.save(); ctx.fillStyle = '#ffffff';
    ctx.fillRect(a.left, a.top, a.right - a.left, a.bottom - a.top);
    ctx.restore();
  },
  afterDraw(chart) {
    const a = chart.chartArea, ctx = chart.ctx;
    ctx.save(); ctx.strokeStyle = '#000'; ctx.lineWidth = 1;
    ctx.strokeRect(a.left + 0.5, a.top + 0.5, a.right - a.left - 1, a.bottom - a.top - 1);
    ctx.restore();
  }
};

const stage = document.getElementById('stage');
const YW = 40, XH = 30, TOPPAD = 4, RIGHTPAD = 6, PW = 126, PH = 64;
const CW = YW + PW + RIGHTPAD, CH = TOPPAD + 22 + PH + XH;
const gridOpts = {display: true, drawOnChartArea: false, drawTicks: true, tickLength: 5, tickColor: '#000', tickWidth: 1, lineWidth: 1, color: '#000'};

for (let f = 0; f < 100; f++) {
  const r = Math.floor(f / 10), c = f % 10;
  const cv = document.createElement('canvas');
  cv.width = CW; cv.height = CH;
  cv.style.width = CW + 'px'; cv.style.height = CH + 'px';
  cv.style.left = (Math.round(240 + c * 151.32) - YW) + 'px';
  cv.style.top = (Math.round(117.96 + r * 76.97) - TOPPAD - 22) + 'px';
  stage.appendChild(cv);
  new Chart(cv, {
    type: 'line',
    data: {
      datasets: seriesNames.map((n, s) => ({
        label: n, data: pointsFor(f, s),
        borderColor: seriesColors[s], backgroundColor: seriesColors[s],
        borderWidth: 0.9, pointRadius: 0, pointHoverRadius: 0, tension: 0, fill: false
      }))
    },
    options: {
      responsive: false, animation: false, devicePixelRatio: 1, events: [],
      layout: {padding: {top: TOPPAD, left: 0, right: RIGHTPAD, bottom: 0}},
      plugins: {
        legend: {display: false}, tooltip: {enabled: false},
        title: {display: true, text: 'frame' + f, fullSize: false, color: '#000',
                font: {size: 14, weight: 'normal', lineHeight: 1.5, family: FONT},
                padding: {top: 0, bottom: 1}}
      },
      scales: {
        x: {type: 'linear', min: 0, max: 51,
            afterBuildTicks: s => { s.ticks = xTicks.map(v => ({value: v})); },
            afterFit: s => { s.height = XH; },
            ticks: {font: {size: 14, family: FONT}, color: '#000', padding: 3, maxRotation: 0, autoSkip: false},
            grid: gridOpts, border: {display: false}},
        y: {type: 'linear', min: 0, max: 50,
            afterBuildTicks: s => { s.ticks = yTicks.map(v => ({value: v})); },
            afterFit: s => { s.width = YW; },
            ticks: {font: {size: 14, family: FONT}, color: '#000', padding: 5, autoSkip: false},
            grid: gridOpts, border: {display: false}}
      }
    },
    plugins: [framePlugin]
  });
}

// figure texts
function addLabel(txt, css) {
  const d = document.createElement('div');
  d.className = 'lbl'; d.textContent = txt;
  Object.assign(d.style, css);
  stage.appendChild(d);
  return d;
}
addLabel('室內人員的動作 - 振幅', {left: '0px', width: '1920px', textAlign: 'center', top: '17px', fontSize: '27px', wordSpacing: '4px'});
addLabel('子載波數 (單位:個)', {left: '978px', top: '917px', fontSize: '22px', transform: 'translate(-50%,-56%)'});
addLabel('振幅 (單位:dB)', {left: '187px', top: '541px', fontSize: '22px', transform: 'translate(-50%,-50%) rotate(-90deg)'});

// legend
const lg = document.createElement('div'); lg.id = 'legend';
const rowCenters = [9.0, 32.7, 56.4, 80.1, 103.8];
seriesNames.forEach((n, s) => {
  const it = document.createElement('div'); it.className = 'it';
  it.style.top = (rowCenters[s] - 10) + 'px';
  const ln = document.createElement('div'); ln.className = 'ln'; ln.style.background = seriesColors[s];
  const tx = document.createElement('div'); tx.className = 'tx'; tx.textContent = n;
  it.appendChild(ln); it.appendChild(tx); lg.appendChild(it);
});
stage.appendChild(lg);
</script>
</body></html>
